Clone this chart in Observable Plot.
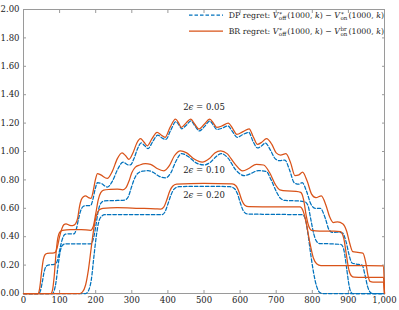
<!DOCTYPE html>
<html><head><meta charset="utf-8">
<script src="https://cdn.jsdelivr.net/npm/d3@7"></script>
<script src="https://cdn.jsdelivr.net/npm/@observablehq/plot@0.6"></script>
<style>
body{margin:0;background:#fff}
#wrap{position:relative;width:399px;height:310px;font-family:"DejaVu Serif",serif}
.leg{position:absolute;right:15px;height:12px;font-size:7.8px;color:#222;white-space:nowrap;display:flex;align-items:center;line-height:10px}
.leg svg{margin-right:5px;flex:none}
.scr{display:inline-block;position:relative;top:2px;font-size:5.6px;line-height:5.2px;margin:0 1px 0 0.5px;vertical-align:baseline}
.scr span{display:block}
</style></head><body><div id="wrap"></div><script>
// k values vs regret
const br05 = [[0,0],[40,0],[45,0.04],[50,0.15],[55,0.24],[60,0.275],[66,0.283],[80,0.285],[88,0.29],[94,0.33],[100,0.40],[106,0.455],[112,0.485],[118,0.49],[126,0.482],[136,0.478],[144,0.49],[150,0.53],[155,0.61],[160,0.66],[166,0.682],[172,0.688],[180,0.675],[187,0.67],[193,0.72],[199,0.80],[205,0.845],[214,0.835],[232,0.81],[246,0.86],[260,0.95],[273,0.99],[283,0.97],[292,0.945],[304,0.995],[314,1.06],[324,1.09],[334,1.065],[343,1.04],[356,1.09],[370,1.134],[382,1.115],[392,1.10],[406,1.17],[421,1.228],[430,1.2],[437,1.17],[450,1.2],[463,1.228],[475,1.19],[486,1.158],[500,1.19],[516,1.228],[526,1.2],[535,1.17],[550,1.18],[567,1.2],[580,1.16],[591,1.12],[608,1.14],[625,1.16],[637,1.1],[648,1.05],[660,1.065],[673,1.09],[688,1.05],[700,0.99],[712,0.975],[727,0.985],[740,0.92],[752,0.83],[763,0.835],[773,0.855],[786,0.79],[798,0.70],[810,0.675],[825,0.688],[838,0.62],[848,0.54],[858,0.50],[870,0.505],[885,0.49],[895,0.44],[904,0.35],[912,0.295],[926,0.29],[940,0.285],[948,0.22],[954,0.13],[960,0.085],[968,0.08],[997,0.08],[1000,0]];
const dp05 = [[0,0],[42,0],[47,0.02],[52,0.08],[57,0.15],[62,0.19],[68,0.2],[85,0.205],[92,0.22],[98,0.28],[104,0.35],[110,0.40],[116,0.418],[122,0.42],[140,0.42],[146,0.45],[152,0.52],[158,0.58],[164,0.61],[170,0.618],[186,0.62],[192,0.66],[198,0.73],[205,0.78],[215,0.775],[232,0.75],[246,0.79],[260,0.87],[276,0.925],[290,0.905],[296,0.905],[306,0.95],[316,1.02],[326,1.06],[336,1.04],[345,1.02],[358,1.07],[372,1.115],[384,1.095],[394,1.085],[408,1.15],[422,1.21],[431,1.185],[438,1.16],[451,1.185],[464,1.215],[476,1.175],[487,1.145],[501,1.175],[516,1.215],[526,1.185],[536,1.155],[551,1.165],[566,1.18],[579,1.14],[592,1.10],[608,1.12],[624,1.135],[636,1.07],[648,1.025],[660,1.04],[670,1.06],[684,1.01],[697,0.95],[710,0.935],[724,0.94],[737,0.87],[750,0.78],[762,0.77],[772,0.78],[784,0.72],[796,0.63],[808,0.60],[822,0.60],[836,0.53],[846,0.45],[856,0.43],[868,0.432],[884,0.425],[894,0.36],[902,0.27],[910,0.215],[922,0.207],[938,0.2],[946,0.13],[953,0.05],[960,0.01],[966,0],[1000,0]];
const br10 = [[0,0],[76,0],[80,0.02],[85,0.12],[90,0.28],[95,0.39],[100,0.43],[108,0.445],[130,0.45],[160,0.45],[186,0.445],[193,0.47],[200,0.56],[207,0.66],[214,0.71],[222,0.728],[240,0.733],[260,0.735],[275,0.73],[284,0.745],[292,0.79],[300,0.85],[310,0.89],[322,0.905],[338,0.915],[352,0.91],[370,0.88],[389,0.864],[404,0.9],[418,0.97],[435,1.005],[452,0.99],[474,0.945],[495,0.925],[515,0.95],[530,0.99],[546,1.005],[564,0.985],[585,0.915],[607,0.864],[624,0.88],[645,0.91],[665,0.905],[682,0.85],[697,0.77],[710,0.73],[730,0.722],[755,0.72],[768,0.712],[776,0.66],[783,0.55],[790,0.475],[798,0.445],[820,0.44],[860,0.44],[878,0.435],[887,0.39],[894,0.28],[901,0.17],[908,0.125],[916,0.115],[940,0.113],[997,0.113],[1000,0]];
const dp10 = [[0,0],[80,0],[85,0.02],[90,0.08],[96,0.2],[102,0.3],[108,0.34],[116,0.35],[150,0.35],[186,0.35],[193,0.38],[200,0.47],[207,0.58],[214,0.635],[224,0.652],[260,0.655],[280,0.658],[290,0.68],[298,0.74],[306,0.8],[316,0.845],[330,0.862],[345,0.865],[358,0.855],[376,0.825],[394,0.815],[408,0.85],[422,0.93],[438,0.985],[456,0.965],[478,0.92],[500,0.905],[518,0.925],[534,0.965],[548,0.985],[566,0.955],[588,0.87],[612,0.83],[630,0.845],[650,0.865],[672,0.86],[686,0.8],[700,0.72],[712,0.67],[725,0.655],[760,0.652],[780,0.645],[788,0.62],[796,0.52],[804,0.42],[811,0.37],[820,0.352],[850,0.35],[880,0.345],[888,0.3],[895,0.18],[901,0.07],[906,0.015],[912,0],[1000,0]];
const br20 = [[0,0],[155,0],[163,0.01],[172,0.06],[180,0.17],[188,0.33],[195,0.46],[202,0.55],[210,0.59],[220,0.6],[260,0.605],[320,0.6],[365,0.596],[380,0.594],[389,0.61],[397,0.66],[405,0.72],[413,0.755],[424,0.77],[500,0.775],[578,0.772],[589,0.757],[597,0.715],[605,0.655],[613,0.622],[624,0.612],[700,0.61],[766,0.61],[774,0.585],[783,0.5],[793,0.36],[803,0.25],[812,0.21],[824,0.197],[900,0.196],[997,0.195],[1000,0]];
const dp20 = [[0,0],[172,0],[180,0.02],[188,0.1],[195,0.26],[202,0.41],[208,0.5],[215,0.54],[225,0.555],[300,0.556],[383,0.555],[392,0.575],[400,0.63],[408,0.69],[417,0.735],[430,0.752],[500,0.755],[572,0.752],[584,0.74],[593,0.7],[601,0.635],[609,0.582],[620,0.56],[700,0.557],[772,0.555],[780,0.53],[788,0.42],[796,0.27],[804,0.14],[812,0.05],[820,0.008],[828,0],[1000,0]];

const labelText = ["2ϵ = 0.05", "2ϵ = 0.10", "2ϵ = 0.20"];
const labelK = [500, 500, 500];
const labelV = [1.31, 0.87, 0.693];
const xTicks = [0,100,200,300,400,500,600,700,800,900,1000];
const yTicks = [0,0.2,0.4,0.6,0.8,1.0,1.2,1.4,1.6,1.8,2.0];

const BLUE = "#0072BD", ORANGE = "#D95319", AX = "#9a9a9a";
const toRows = a => a.map(([k, v]) => ({k, v}));
const dash = "3.5,2";
const lw = 1.25;

const plot = Plot.plot({
  width: 399, height: 310,
  marginLeft: 23, marginRight: 15, marginTop: 9, marginBottom: 17,
  style: {fontFamily: "DejaVu Serif, serif", fontSize: "8.5px", color: "#222", background: "#fff"},
  x: {domain: [0, 1000]},
  y: {domain: [0, 2]},
  marks: [
    Plot.frame({stroke: AX}),
    Plot.axisX({ticks: xTicks, tickFormat: d3.format(","), tickSize: -3, tickPadding: 6.5, stroke: AX, fill: "#222", label: null}),
    Plot.axisX({anchor: "top", ticks: xTicks, tickFormat: () => "", tickSize: -3, stroke: AX, label: null}),
    Plot.axisY({ticks: yTicks, tickFormat: d3.format(".2f"), tickSize: -3, tickPadding: 7, stroke: AX, fill: "#222", label: null}),
    Plot.axisY({anchor: "right", ticks: yTicks, tickFormat: () => "", tickSize: -3, stroke: AX, label: null}),
    Plot.line(toRows(dp05), {x: "k", y: "v", stroke: BLUE, strokeWidth: lw, strokeDasharray: dash, curve: "monotone-x"}),
    Plot.line(toRows(dp10), {x: "k", y: "v", stroke: BLUE, strokeWidth: lw, strokeDasharray: dash, curve: "monotone-x"}),
    Plot.line(toRows(dp20), {x: "k", y: "v", stroke: BLUE, strokeWidth: lw, strokeDasharray: dash, curve: "monotone-x"}),
    Plot.line(toRows(br05), {x: "k", y: "v", stroke: ORANGE, strokeWidth: lw, curve: "monotone-x"}),
    Plot.line(toRows(br10), {x: "k", y: "v", stroke: ORANGE, strokeWidth: lw, curve: "monotone-x"}),
    Plot.line(toRows(br20), {x: "k", y: "v", stroke: ORANGE, strokeWidth: lw, curve: "monotone-x"}),
    Plot.text(labelText.map((t, i) => ({t, k: labelK[i], v: labelV[i]})), {x: "k", y: "v", text: "t", fill: "#222", fontSize: 8.5})
  ]
});
const wrap = document.getElementById("wrap");
wrap.appendChild(plot);
d3.select(plot).selectAll("text").each(function() {
  const s = this.textContent;
  if (s.startsWith("2ϵ")) {
    const rest = s.slice(2);
    const t = d3.select(this); t.text("");
    t.append("tspan").text("2");
    t.append("tspan").attr("font-style", "italic").text("ϵ");
    t.append("tspan").text(rest);
  }
});

function legRow(top, color, dashed, label, sup, sub) {
  const row = document.createElement("div");
  row.className = "leg"; row.style.top = top + "px";
  row.innerHTML = `<svg width="36" height="8"><line x1="1" x2="35" y1="4" y2="4" stroke="${color}" stroke-width="${lw}" ${dashed ? `stroke-dasharray="${dash}"` : ""}/></svg>` +
    `<span>${label} regret:&nbsp;<i>V</i><span class="scr"><span>∗</span><span>off</span></span>(1000, <i>k</i>) − <i>V</i><span class="scr"><span>${sup}</span><span>${sub}</span></span>(1000, <i>k</i>)</span>`;
  wrap.appendChild(row);
}
legRow(9, BLUE, true, "DP", "∗", "on");
legRow(25, ORANGE, false, "BR", "br", "on");
</script></body></html>
